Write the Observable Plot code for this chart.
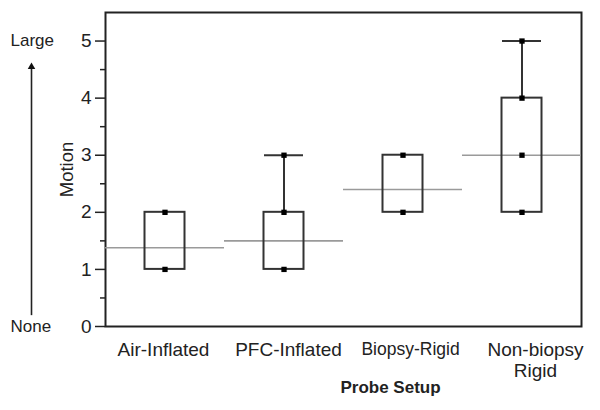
<!DOCTYPE html>
<html>
<head>
<meta charset="utf-8">
<script src="https://cdn.jsdelivr.net/npm/d3@7"></script>
<script src="https://cdn.jsdelivr.net/npm/@observablehq/plot@0.6"></script>
<style>
  body { margin: 0; background: #fff; }
  svg { display: block; }
</style>
</head>
<body>
<div id="chart"></div>
<script>
// ---- data ----
const categories = ["Air-Inflated", "PFC-Inflated", "Biopsy-Rigid", "Non-biopsy Rigid"];
const categoryLabels = ["Air-Inflated", "PFC-Inflated", "Biopsy-Rigid", "Non-biopsy\nRigid"];
const boxLow = [1, 1, 2, 2];
const boxHigh = [2, 2, 3, 4];
const whiskerMax = [2, 3, 3, 5];
const means = [1.38, 1.5, 2.4, 3.0];
const observed = [[1, 2], [1, 2, 3], [2, 3], [2, 3, 4, 5]];
const majorTicks = [0, 1, 2, 3, 4, 5];
const minorTicks = [0.5, 1.5, 2.5, 3.5, 4.5];
const yTitle = "Motion";
const xTitle = "Probe Setup";
const scaleEnds = [{text: "Large", v: 5}, {text: "None", v: 0}];
const arrowSpan = [0.19, 4.6];

// ---- derived tables ----
const boxes = categories.map((c, i) => ({cat: c, lo: boxLow[i], hi: boxHigh[i], max: whiskerMax[i], mean: means[i]}));
const whiskers = boxes.filter(d => d.max > d.hi);
const points = categories.flatMap((c, i) => observed[i].map(v => ({cat: c, v})));
const labelShift = [-1.5, 4.5, 7.5, 13.5];

const font = "'Liberation Sans', Arial, Helvetica, sans-serif";

const chart = Plot.plot({
  width: 600,
  height: 410,
  marginLeft: 105,
  marginRight: 19,
  marginTop: 12,
  marginBottom: 84,
  style: {fontFamily: font, fontSize: "18px", color: "#222", background: "#fff"},
  x: {type: "band", domain: categories, padding: 0, axis: null},
  y: {domain: [0, 5.5], axis: null},
  marks: [
    Plot.frame({stroke: "#222", strokeWidth: 2}),
    // y axis
    Plot.axisY({ticks: majorTicks, tickFormat: "d", tickSize: 10, tickPadding: 4, fontSize: 19, label: null, strokeWidth: 1.5}),
    Plot.axisY({ticks: minorTicks, tickSize: 5, text: null, label: null, strokeWidth: 1.5}),
    // mean lines
    Plot.tickY(boxes, {x: "cat", y: "mean", stroke: "#9a9a9a", strokeWidth: 1.6}),
    // whiskers
    Plot.ruleX(whiskers, {x: "cat", y1: "hi", y2: "max", stroke: "#333", strokeWidth: 2}),
    Plot.tickY(whiskers, {x: "cat", y: "max", stroke: "#333", strokeWidth: 2, inset: 40}),
    // boxes
    Plot.rect(boxes, {x: "cat", y1: "lo", y2: "hi", fill: "none", stroke: "#333", strokeWidth: 2, insetLeft: 39.5, insetRight: 39.5}),
    // observed points
    Plot.dot(points, {x: "cat", y: "v", symbol: "square", r: 3, fill: "#000", stroke: "none"}),
    // category labels
    ...categories.map((c, i) => Plot.text([c], {
      x: d => d,
      text: () => categoryLabels[i],
      frameAnchor: "bottom",
      lineAnchor: "top",
      dy: 15,
      dx: labelShift[i],
      lineHeight: 1.08,
      fontSize: c === "Biopsy-Rigid" ? 17.5 : 19,
      fill: "#222"
    })),
    // axis titles
    Plot.text([xTitle], {frameAnchor: "bottom", dy: 66, dx: 47, fontWeight: "bold", fontSize: 17, fill: "#222"}),
    Plot.text([yTitle], {frameAnchor: "left", textAnchor: "middle", rotate: -90, dx: -38, fontSize: 18.5, fill: "#222"}),
    // Large / None scale
    Plot.text(scaleEnds, {y: "v", text: "text", frameAnchor: "left", textAnchor: "start", dx: -95, fontSize: 17, fill: "#222"}),
    Plot.ruleX([arrowSpan], {x: () => categories[0], y1: d => d[0], y2: d => d[1] - 0.05, dx: -133.5, stroke: "#222", strokeWidth: 1.6}),
    Plot.dot([arrowSpan], {x: () => categories[0], y: d => d[1], dx: -133.5, dy: 3, symbol: "triangle", r: 2.8, fill: "#111", stroke: "none"})
  ]
});

document.getElementById("chart").appendChild(chart);
</script>
</body>
</html>
